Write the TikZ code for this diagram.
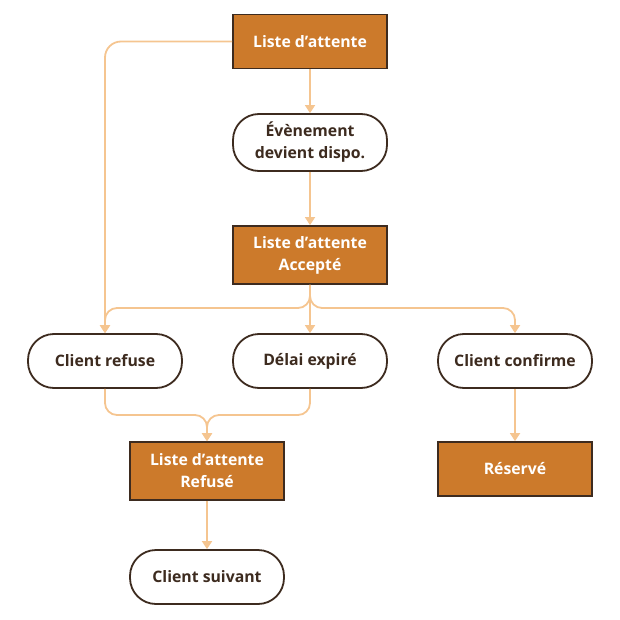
\documentclass[tikz,border=0pt]{standalone}
\usepackage{fontspec}
\setmainfont{Open Sans}
\usetikzlibrary{arrows.meta}
\definecolor{rust}{HTML}{CC7A2B}
\definecolor{bark}{HTML}{3D2B1F}
\definecolor{peach}{HTML}{F5C590}

\begin{document}
\begin{tikzpicture}[x=0.5pt,y=-0.5pt,
  state/.style={minimum width=77pt,minimum height=27pt,draw=bark,line width=0.9pt,fill=rust,
    text=white,font=\fontsize{7.9}{11}\selectfont\bfseries,align=center,inner sep=2pt},
  event/.style={state,rounded corners=13pt,fill=white,text=bark,minimum height=27pt},
  link/.style={draw=peach,line width=0.9pt,rounded corners=6pt,-{Triangle[width=5pt,length=4pt]}}]
\useasboundingbox (0,0) rectangle (620,620);
\draw (310,41.5) node[state](wait) {Liste d’attente};
\draw (310,142.5) node[event,minimum height=28.5pt](free) {Évènement\\devient dispo.};
\draw (310,255) node[state,minimum height=29pt](accepted) {Liste d’attente\\Accepté};
\draw (105,361) node[event](refuse) {Client refuse};
\draw (310,361) node[event](expired) {Délai expiré};
\draw (515,361) node[event](confirm) {Client confirme};
\draw (207,471) node[state,minimum height=29pt](refused) {Liste d’attente\\Refusé};
\draw (515,469) node[state](booked) {Réservé};
\draw (207,577) node[event](next) {Client suivant};
\coordinate (split) at (310,308);
\coordinate (merge) at (207,415);
\draw[link,rounded corners=8pt] (wait.west) -| (refuse.north);
\draw[link] (wait) -- (free);
\draw[link] (free) -- (accepted);
\draw[link] (accepted.south) -- (split) -| (refuse.north);
\draw[link] (accepted.south) -- (expired.north);
\draw[link] (accepted.south) -- (split) -| (confirm.north);
\draw[link] (refuse.south) |- (merge) -- (refused.north);
\draw[link] (expired.south) |- (merge) -- (refused.north);
\draw[link] (confirm) -- (booked);
\draw[link] (refused) -- (next);
\end{tikzpicture}
\end{document}
